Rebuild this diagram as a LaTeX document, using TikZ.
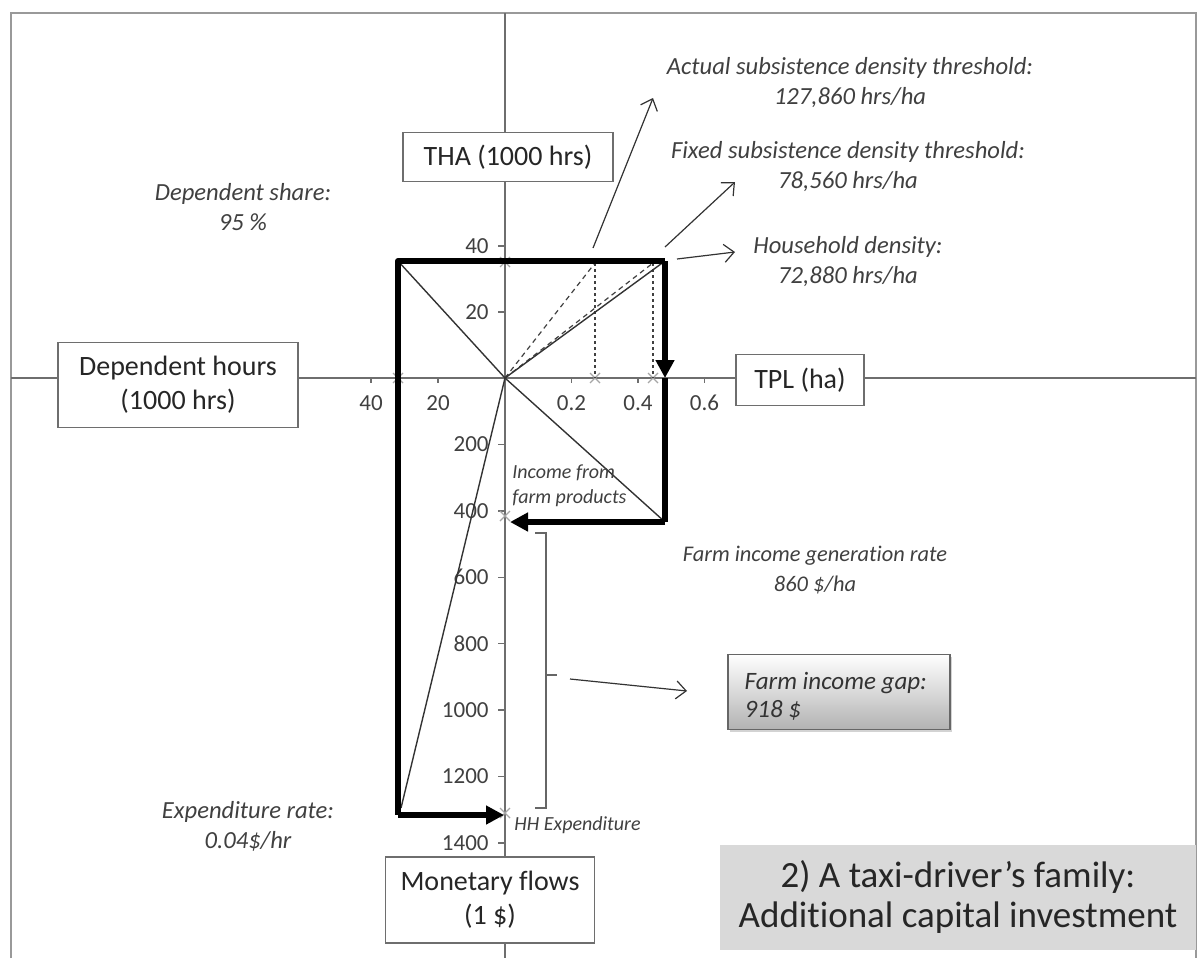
\documentclass[tikz,border=0pt]{standalone}
\usepackage{fontspec}
\setmainfont{Carlito}[Ligatures={NoCommon}]
\usetikzlibrary{arrows.meta,positioning,shadows}

\definecolor{axisgray}{HTML}{6E6E6E}
\definecolor{labgray}{HTML}{404040}
\definecolor{crossgray}{HTML}{A6A6A6}
\definecolor{titlefill}{HTML}{D9D9D9}

\tikzset{
  frameline/.style={gray!80,line width=0.9pt},
  axisline/.style={axisgray,line width=0.7pt},
  axisbox/.style={draw=axisgray,fill=white,line width=0.7pt,align=center,text=black!85,
    font=\fontsize{14}{17}\selectfont,inner sep=0pt},
  ticklab/.style={text=labgray,font=\fontsize{11.5}{13}\selectfont,inner sep=0pt},
  note/.style={text=labgray,font=\fontsize{12.3}{15}\selectfont\itshape,align=center,inner sep=0pt},
  smallnote/.style={text=labgray,font=\fontsize{10}{12.5}\selectfont\itshape,align=left,inner sep=0pt},
  flow/.style={line width=3pt,line join=round,-{Triangle[length=9pt,width=9pt]}},
  flowline/.style={line width=3pt,line join=round},
  guide/.style={black!80,line width=0.7pt},
  dashguide/.style={black!75,line width=0.6pt,dash pattern=on 2.5pt off 2pt},
  dotguide/.style={black!75,line width=0.6pt,dash pattern=on 1.5pt off 1.5pt},
  pointer/.style={black!80,line width=0.6pt,-{Straight Barb[length=5pt,width=9pt]}},
  cross/.style={crossgray,line width=0.6pt},
}

\begin{document}
\begin{tikzpicture}[x=0.5pt,y=-0.5pt]
\useasboundingbox (0,0) rectangle (1198,958);

% Frame
\coordinate (fTL) at (11,13);
\coordinate (fTR) at (1196,13);
\coordinate (fBL) at (11,958);
\coordinate (fBR) at (1196,958);
\draw[frameline] (fBL) -- (fTL) -- (fTR) -- (fBR);

% Axes
\coordinate (O) at (505,378);
\coordinate (xL) at (11,378);
\coordinate (xR) at (1196,378);
\coordinate (yT) at (505,13);
\coordinate (yB) at (505,958);
\draw[axisline] (xL) -- (xR);
\draw[axisline] (yT) -- (yB);

% Ticks and tick labels
\foreach \k/\lab in {1/20,2/40}
{\draw[axisline] (498,{378-66*\k}) -- (505,{378-66*\k});
 \node[ticklab,anchor=east] (tha\k) at (489,{378-66*\k}) {\lab};
 \draw[axisline] ({505-67*\k},378) -- ({505-67*\k},383);
 \node[ticklab] (dep\k) at ({505-67*\k},403) {\lab};}
\foreach \k/\lab in {1/0.2,2/0.4,3/0.6}
{\draw[axisline] ({505+66.5*\k},378) -- ({505+66.5*\k},383);
 \node[ticklab] (tpl\k) at ({505+66.5*\k},403) {\lab};}
\foreach \k in {1,...,7}
{\draw[axisline] (498,{378+66.4*\k}) -- (505,{378+66.4*\k});
 \pgfmathtruncatemacro{\lab}{200*\k}
 \node[ticklab,anchor=east] (mon\k) at (489,{378+66.4*\k}) {\lab};}

% Corners of the flow box
\coordinate (TL) at (398,261);
\coordinate (TR) at (665,261);
\coordinate (TRx) at (665,378);
\coordinate (BR) at (665,522);
\coordinate (BL) at (398,815);
\coordinate (INC) at (510,522);
\coordinate (EXP) at (504,815);
\coordinate (Atop) at (595,263);
\coordinate (Ax) at (595,378);
\coordinate (Ftop) at (653,263);
\coordinate (Fx) at (653,378);
\coordinate (Elow) at (401,808);

% Point markers
\foreach \px/\py in {505/262,398/378,595/378,653/378,505/516,505/813}
{\draw[cross] (\px-5,\py-5) -- (\px+5,\py+5) (\px-5,\py+5) -- (\px+5,\py-5);}

% Density lines
\draw[dashguide] (O) -- (Atop);
\draw[dotguide] (Atop) -- (Ax);
\draw[dashguide] (O) -- (Ftop);
\draw[dotguide] (Ftop) -- (Fx);
\draw[guide] (O) -- (TR);

% Share, generation and expenditure lines
\draw[guide] (TL) -- (O);
\draw[guide] (O) -- (BR);
\draw[guide] (O) -- (Elow);

% Flows
\draw[flowline] (TR) -- (TL) -- (BL);
\draw[flow] (BL) -- (EXP);
\draw[flow] (TR) -- (TRx);
\draw[flowline] (TRx) -- (BR);
\draw[flow] (BR) -- (INC);

% Axis boxes
\node[axisbox,minimum width=105pt,minimum height=24.5pt] (tha) at (508,157) {THA (1000 hrs)};
\node[axisbox,minimum width=120pt,minimum height=42.5pt] (dephrs) at (178,385) {Dependent hours\\(1000 hrs)};
\node[axisbox,minimum width=64pt,minimum height=25.5pt] (tpl) at (800,380) {TPL (ha)};
\node[axisbox,minimum width=104.5pt,minimum height=43pt] (monetary) at (490,900) {Monetary flows\\(1 \$)};

% Notes
\node[note] (share) at (243,207) {Dependent share:\\95 \%};
\node[note] (actual) at (850,83) {Actual subsistence density threshold:\\127,860 hrs/ha};
\node[note] (fixed) at (848,167) {Fixed subsistence density threshold:\\78,560 hrs/ha};
\node[note] (hhdens) at (848,262) {Household density:\\72,880 hrs/ha};
\node[note,font=\fontsize{11.2}{15}\selectfont\itshape] (genrate) at (815,570) {Farm income generation rate\\860 \$/ha};
\node[note] (exprate) at (248,826) {Expenditure rate:\\0.04\$/hr};
\node[smallnote,anchor=west] (income) at (512,486) {Income from\\farm products};
\node[smallnote,anchor=west] (hhexp) at (514,825) {HH Expenditure};

% Pointers to the notes
\coordinate (pA) at (593,248);
\coordinate (pF) at (665,247);
\coordinate (pH) at (677,259);
\draw[pointer] (pA) -- (653,98);
\draw[pointer] (pF) -- (735,182);
\draw[pointer] (pH) -- (735,252);

% Income gap bracket
\coordinate (bT) at (535,533);
\coordinate (bB) at (535,808);
\draw[guide,black!60] (bT) -- (546,533) -- (546,808) -- (bB);
\draw[guide,black!60] (546,675) -- (557,675);
\node[draw=black!60,line width=0.7pt,top color=white,bottom color=black!30,
  drop shadow={opacity=0.35,shadow xshift=1.2pt,shadow yshift=-1.2pt},
  minimum width=111pt,minimum height=37.5pt] (gap) at (839,692) {};
\node[text=black!80,font=\fontsize{12.5}{14}\selectfont\itshape,align=left,
  inner sep=0pt,anchor=west] (gaptext) at ([xshift=8.5pt,yshift=-2pt]gap.west)
  {Farm income gap:\\918 \$};
\coordinate (gS) at (570,679);
\draw[pointer] (gS) -- (687,691);

% Title
\node[fill=titlefill,minimum width=238pt,minimum height=52.5pt,align=center,
  text=black!85,font=\fontsize{18.5}{20}\selectfont] (title) at (958,897)
  {2) A taxi-driver’s family:\\Additional capital investment};
\end{tikzpicture}
\end{document}
